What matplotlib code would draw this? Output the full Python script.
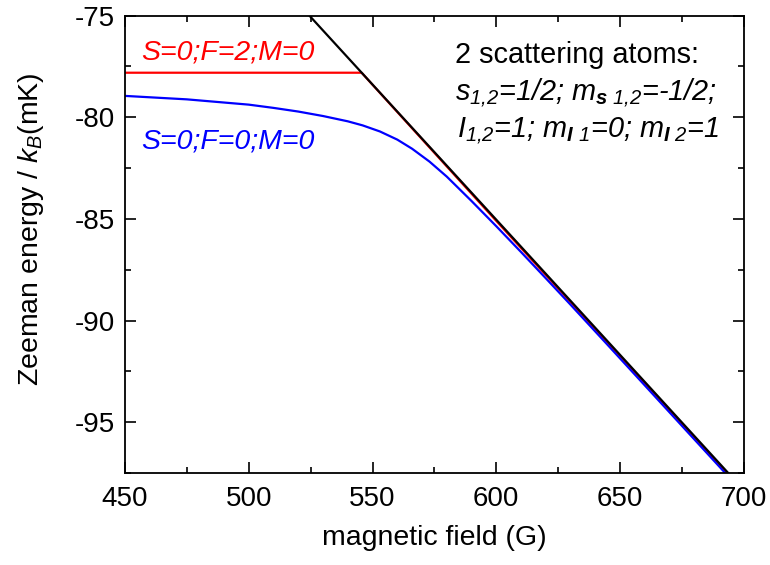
import matplotlib
matplotlib.use("Agg")
import matplotlib.pyplot as plt
from matplotlib.ticker import MultipleLocator

plt.rcParams['font.family'] = 'Liberation Sans'
plt.rcParams['mathtext.fontset'] = 'custom'
plt.rcParams['mathtext.rm'] = 'Liberation Sans:italic'
plt.rcParams['mathtext.it'] = 'Liberation Sans:italic'
plt.rcParams['mathtext.bf'] = 'Liberation Sans:italic:bold'
plt.rcParams['axes.unicode_minus'] = False

# threshold (black) line
black_field = [524.5, 693.7]
black_energy = [-75.0, -97.5]

# S=0;F=2;M=0 (red)
red_field = [450, 500, 545.6, 600, 650, 694]
red_energy = [-77.81, -77.81, -77.81, -85.10, -91.75, -97.60]

# S=0;F=0;M=0 (blue)
blue_field = [450, 475, 500, 510, 520, 530, 540, 546, 553, 560, 566, 573,
              580, 590, 600, 610, 620, 630, 645, 660, 675, 694]
blue_energy = [-78.95, -79.12, -79.38, -79.54, -79.72, -79.94, -80.20,
               -80.40, -80.70, -81.10, -81.55, -82.18, -82.92, -84.12,
               -85.36, -86.63, -87.92, -89.22, -91.20, -93.19, -95.18,
               -97.70]

fig = plt.figure(figsize=(7.7, 5.65), dpi=100)
ax = fig.add_axes([0.1623, 0.1628, 0.8037, 0.8096])

ax.plot(red_field, red_energy, color='#ff0000', lw=1.6)
ax.plot(blue_field, blue_energy, color='#0000ff', lw=1.6)
ax.plot(black_field, black_energy, color='black', lw=1.6)

ax.set_xlim(450, 700)
ax.set_ylim(-97.5, -75)
ax.xaxis.set_major_locator(MultipleLocator(50))
ax.xaxis.set_minor_locator(MultipleLocator(25))
ax.yaxis.set_major_locator(MultipleLocator(5))
ax.yaxis.set_minor_locator(MultipleLocator(2.5))
ax.tick_params(which='both', direction='in', top=True, right=True,
               labelsize=20, width=1.2)
ax.tick_params(axis='x', pad=9)
ax.tick_params(axis='y', pad=7)
ax.tick_params(which='major', length=8)
ax.tick_params(which='minor', length=4)
for s in ax.spines.values():
    s.set_linewidth(1.3)

ax.set_xlabel('magnetic field (G)', fontsize=20.5, labelpad=10)
ax.set_ylabel('Zeeman energy / $k_B$(mK)', fontsize=20.5)
ax.yaxis.set_label_coords(-0.128, 0.533)

ax.text(456.7, -77.18, 'S=0;F=2;M=0', color='#ff0000', fontsize=20.5,
        style='italic', va='baseline')
ax.text(456.5, -81.53, 'S=0;F=0;M=0', color='#0000ff', fontsize=20.5,
        style='italic', va='baseline')

ax.text(583.3, -77.33, '2 scattering atoms:', fontsize=20.8, va='baseline')
ax.text(583.3, -79.15, r'$s_{1{,}2}$=1/2; $m_{\mathbf{s}\ 1{,}2}$=-1/2;',
        fontsize=20.8, style='italic', va='baseline')
ax.text(584.0, -81.02, r'$I_{1{,}2}$=1; $m_{\mathbf{I}\ 1}$=0; $m_{\mathbf{I}\ 2}$=1',
        fontsize=20.8, style='italic', va='baseline')

fig.savefig('out.png', dpi=100)
